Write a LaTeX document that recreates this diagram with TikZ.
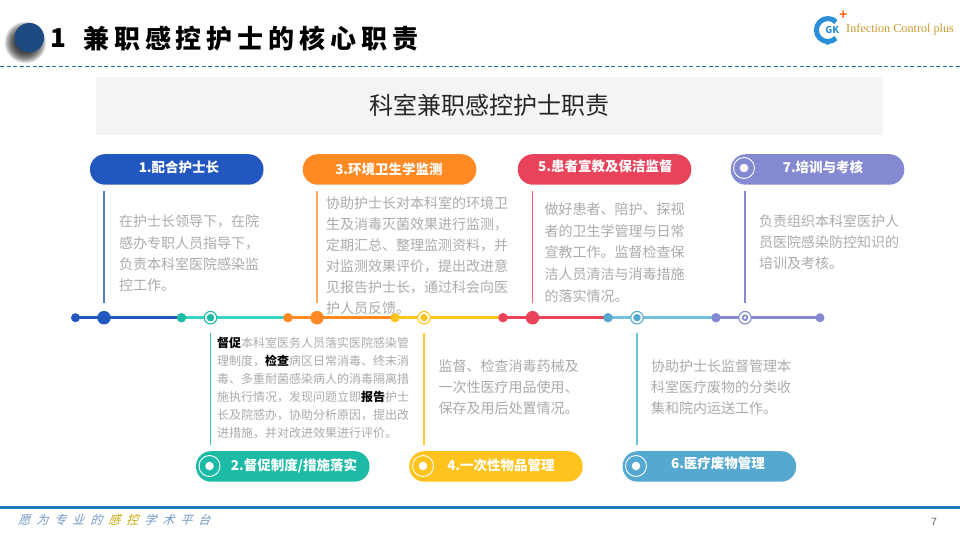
\documentclass[tikz,border=0pt]{standalone}
\usepackage{fontspec}
\setmainfont{Noto Sans CJK SC}
\newfontfamily\titlefont[LetterSpace=18.9]{Noto Sans CJK SC}
\newfontfamily\slogfont[FakeSlant=0.35]{Noto Sans CJK SC}
\newfontfamily\logofont{Liberation Serif}
\newfontfamily\numfont{Liberation Sans}
\newcommand{\slogch}[2]{\makebox[18pt][l]{\color{#1}#2}}
\definecolor{cblue}{HTML}{2257BF}
\definecolor{cteal}{HTML}{1DBBA5}
\definecolor{ltteal}{HTML}{38D3C2}
\definecolor{corange}{HTML}{FF8A24}
\definecolor{cyellow}{HTML}{FFC31D}
\definecolor{cred}{HTML}{E8435A}
\definecolor{ccyan}{HTML}{55A8CF}
\definecolor{ltcyan}{HTML}{72BFDF}
\definecolor{cpurple}{HTML}{8489D2}
\definecolor{bodygray}{HTML}{ABABAB}
\definecolor{headbg}{HTML}{F2F4F5}
\definecolor{rule}{HTML}{1B75A8}
\definecolor{footbar}{HTML}{1F7ABC}
\definecolor{gold}{HTML}{C9992B}
\definecolor{slog}{HTML}{6F96C4}
\definecolor{sloggold}{HTML}{C9A400}
\definecolor{logoblue}{HTML}{2B8FD8}
\definecolor{navy}{HTML}{1D4A80}
\tikzset{
  x=1pt,y=-1pt,
  pill/.style={rounded corners=15pt,fill=#1,minimum width=173.5pt,minimum height=30.5pt,inner sep=0pt,anchor=north west},
  pilltext/.style={text=white,font=\fontsize{13.5}{16}\selectfont\bfseries,inner sep=0pt},
  dot/.style={circle,fill=#1,inner sep=0pt,minimum size=11pt},
  bigdot/.style={circle,fill=#1,inner sep=0pt,minimum size=13.5pt},
  ringdot/.style={circle,draw=#1,line width=1.1pt,fill=white,inner sep=0pt,minimum size=12.5pt},
  coredot/.style={circle,fill=#1,inner sep=0pt,minimum size=7.5pt},
  iconring/.style={circle,draw=white,line width=.9pt,inner sep=0pt,minimum size=21pt},
  icondot/.style={circle,fill=white,inner sep=0pt,minimum size=8.5pt},
  bodytext/.style={text=bodygray,anchor=north west,inner sep=0pt,align=left,font=\fontsize{14}{21.3}\selectfont},
  smalltext/.style={text=bodygray,anchor=north west,inner sep=0pt,align=left,font=\fontsize{12}{18}\selectfont},
  seg/.style={draw=#1,line width=3pt},
  stem/.style={draw=#1,line width=1.1pt},
}
\begin{document}
\begin{tikzpicture}
\useasboundingbox (0,0) rectangle (960,540);
\fill[white] (0,0) rectangle (960,540);
% header
\foreach \r in {21,20.5,...,11}{\fill[black,opacity=.055] (25.5,42.5) circle[radius=\r pt];}
\node[circle,fill=navy,inner sep=0pt,minimum size=29.5pt] (ball) at (29.3,37.7) {};
\node[inner sep=0pt,font=\fontsize{26}{30}\selectfont\bfseries] (num) at (58,38.5) {1};
\node[inner sep=0pt,anchor=west,font=\titlefont\fontsize{26}{30}\selectfont\bfseries] (title) at (83,39) {兼职感控护士的核心职责};
\coordinate (ruleL) at (0,66.5); \coordinate (ruleR) at (960,66.5);
\draw[rule,line width=.9pt,dash pattern=on 4pt off 2.5pt] (ruleL) -- (ruleR);
% logo
\draw[logoblue,line width=5pt] (836,21.9) arc[start angle=45,end angle=315,radius=11.5pt];
\fill[logoblue] (823,41) -- (831,41) -- (827.5,45.5) -- cycle;
\node[inner sep=0pt,text=logoblue,font=\fontsize{9.5}{10}\selectfont\bfseries] (gk) at (832.3,30) {GK};
\node[inner sep=0pt,text=orange!80!red,font=\fontsize{13}{13}\selectfont\bfseries] (plus) at (843.3,15.5) {+};
\node[inner sep=0pt,anchor=west,text=gold,font=\logofont\fontsize{12.2}{14}\selectfont] (brand) at (846,30) {Infection Control plus};
% banner
\node[fill=headbg,minimum width=787pt,minimum height=58pt,inner sep=0pt,anchor=north west] (banner) at (96,77) {};
\node[inner sep=0pt,text=black!85,font=\fontsize{24}{28}\selectfont] (bannertext) at (489,105) {科室兼职感控护士职责};
% pills
\node[pill=cblue] (p1) at (89.8,154) {};
\node[pill=corange] (p3) at (302.6,154) {};
\node[pill=cred] (p5) at (517.6,154) {};
\node[pill=cpurple] (p7) at (730.6,154) {};
\node[pill=cteal] (p2) at (195.8,451) {};
\node[pill=cyellow] (p4) at (409,451) {};
\node[pill=ccyan] (p6) at (622.4,451) {};
\node[pilltext] (t1) at (179,167) {1.配合护士长};
\node[pilltext] (t3) at (389,169) {3.环境卫生学监测};
\node[pilltext] (t5) at (605.3,166) {5.患者宣教及保洁监督};
\node[pilltext] (t7) at (823,167) {7.培训与考核};
\node[pilltext] (t2) at (294,466) {2.督促制度/措施落实};
\node[pilltext] (t4) at (501,465) {4.一次性物品管理};
\node[pilltext] (t6) at (718,463) {6.医疗废物管理};
\foreach \n/\x/\y in {i7/744/168,i2/209.5/466,i4/423/466,i6/636/466}{
  \node[iconring] (\n r) at (\x,\y) {};
  \node[icondot] (\n d) at (\x,\y) {};
}
% timeline
\coordinate (a0) at (75.5,317.7);\coordinate (a1) at (181.5,317.7);\coordinate (a2) at (288,317.7);
\coordinate (a3) at (395,317.7);\coordinate (a4) at (503,317.7);\coordinate (a5) at (608,317.7);
\coordinate (a6) at (716,317.7);\coordinate (a7) at (820,317.7);
\draw[seg=cblue] (a0) -- (a1);
\draw[seg=ltteal] (a1) -- (a2);
\draw[seg=corange] (a2) -- (a3);
\draw[seg=cyellow] (a3) -- (a4);
\draw[seg=cred] (a4) -- (a5);
\draw[seg=ltcyan] (a5) -- (a6);
\draw[seg=cpurple] (a6) -- (a7);
\node[dot=cblue,minimum size=9pt] (d0) at (a0) {};
\node[bigdot=cblue] (d1) at (104,317.7) {};
\node[dot=cteal,minimum size=9.5pt] (d11) at (a1) {};
\node[ringdot=cteal] (d2) at (210.5,317.7) {};
\node[coredot=cteal] (d2c) at (d2) {};
\node[dot=corange,minimum size=9.5pt] (d21) at (a2) {};
\node[bigdot=corange] (d3) at (317,317.7) {};
\node[dot=cyellow,minimum size=9.5pt] (d31) at (a3) {};
\node[ringdot=cyellow] (d4) at (424,317.7) {};
\node[coredot=cyellow] (d4c) at (d4) {};
\node[dot=cred,minimum size=9.5pt] (d41) at (a4) {};
\node[bigdot=cred] (d5) at (532.5,317.7) {};
\node[dot=ccyan,minimum size=9.5pt] (d51) at (a5) {};
\node[ringdot=ccyan] (d6) at (637,317.7) {};
\node[coredot=ccyan] (d6c) at (d6) {};
\node[dot=cpurple,minimum size=9.5pt] (d61) at (a6) {};
\node[ringdot=cpurple] (d7) at (745,317.7) {};
\node[coredot=cpurple,minimum size=6.5pt] (d7c) at (d7) {};
\node[circle,fill=white,inner sep=0pt,minimum size=3pt] (d7w) at (d7) {};
\node[dot=cpurple,minimum size=9pt] (d71) at (a7) {};
% stems
\draw[stem=cblue!80!white,shorten >=6pt,shorten <=7.5pt] (d1.north) -- (d1.north |- p1.south);
\draw[stem=corange!75!white,shorten >=6pt,shorten <=7.5pt] (d3.north) -- (d3.north |- p3.south);
\draw[stem=cred!85!white,shorten >=6pt,shorten <=7.5pt] (d5.north) -- (d5.north |- p5.south);
\draw[stem=cpurple,shorten >=6pt,shorten <=7.5pt] (d7.north) -- (d7.north |- p7.south);
\draw[stem=cteal!85!white,shorten >=6pt,shorten <=8pt] (d2.south) -- (d2.south |- p2.north);
\draw[stem=cyellow!85!white,shorten >=6pt,shorten <=8pt] (d4.south) -- (d4.south |- p4.north);
\draw[stem=ltcyan,shorten >=6pt,shorten <=8pt] (d6.south) -- (d6.south |- p6.north);
% body text
\node[bodytext] (b1) at (119,214.7) {在护士长领导下，在院\\感办专职人员指导下，\\负责本科室医院感染监\\控工作。};
\node[bodytext,font=\fontsize{14}{21}\selectfont] (b3) at (326,196.5) {协助护士长对本科室的环境卫\\生及消毒灭菌效果进行监测，\\定期汇总、整理监测资料，并\\对监测效果评价，提出改进意\\见报告护士长，通过科会向医\\护人员反馈。};
\node[bodytext,font=\fontsize{14}{21.7}\selectfont] (b5) at (544.3,202.5) {做好患者、陪护、探视\\者的卫生学管理与日常\\宣教工作。监督检查保\\洁人员清洁与消毒措施\\的落实情况。};
\node[bodytext,font=\fontsize{14}{21}\selectfont] (b7) at (759,214) {负责组织本科室医护人\\员医院感染防控知识的\\培训及考核。};
\node[smalltext] (b2) at (217,336.7) {{\color{black}\bfseries 督促}本科室医务人员落实医院感染管\\理制度，{\color{black}\bfseries 检查}病区日常消毒、终末消\\毒、多重耐菌感染病人的消毒隔离措\\施执行情况，发现问题立即{\color{black}\bfseries 报告}护士\\长及院感办，协助分析原因，提出改\\进措施，并对改进效果进行评价。};
\node[bodytext,font=\fontsize{14}{21}\selectfont] (b4) at (438.3,359.5) {监督、检查消毒药械及\\一次性医疗用品使用、\\保存及用后处置情况。};
\node[bodytext,font=\fontsize{14}{21}\selectfont] (b6) at (651,359.5) {协助护士长监督管理本\\科室医疗废物的分类收\\集和院内运送工作。};
% footer
\fill[footbar] (0,506) rectangle (960,509.3);
\node[inner sep=0pt,anchor=west,font=\slogfont\fontsize{12}{14}\selectfont] (slogan) at (18,520) {\slogch{slog}{愿}\slogch{slog}{为}\slogch{slog}{专}\slogch{slog}{业}\slogch{slog}{的}\slogch{sloggold}{感}\slogch{sloggold}{控}\slogch{slog}{学}\slogch{slog}{术}\slogch{slog}{平}\slogch{slog}{台}};
\node[inner sep=0pt,text=black!60,font=\numfont\fontsize{10.5}{12}\selectfont] (page) at (934,521.5) {7};
\end{tikzpicture}
\end{document}
